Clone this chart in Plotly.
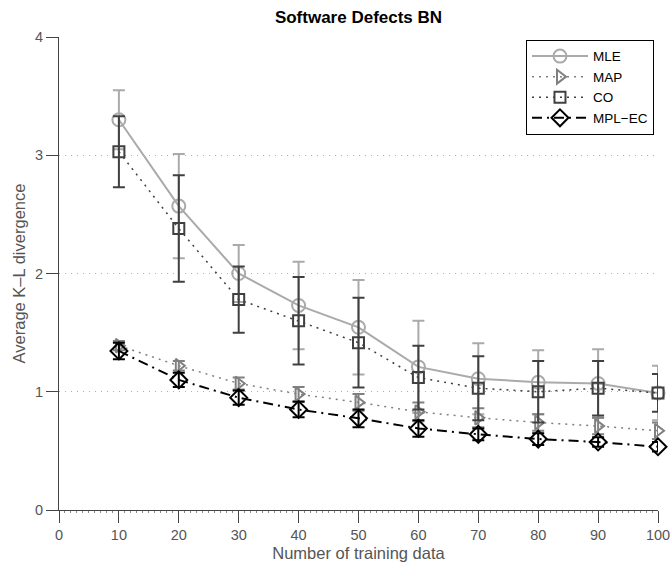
import plotly.graph_objects as go

x_train = [10, 20, 30, 40, 50, 60, 70, 80, 90, 100]

mle_mean = [3.30, 2.57, 2.00, 1.73, 1.545, 1.21, 1.11, 1.08, 1.07, 0.99]
mle_err = [0.25, 0.44, 0.24, 0.37, 0.40, 0.39, 0.30, 0.27, 0.29, 0.23]

map_mean = [1.39, 1.22, 1.07, 0.98, 0.91, 0.83, 0.78, 0.74, 0.71, 0.67]
map_err = [0.04, 0.04, 0.05, 0.06, 0.07, 0.08, 0.08, 0.07, 0.07, 0.07]

co_mean = [3.03, 2.38, 1.78, 1.60, 1.415, 1.12, 1.03, 1.00, 1.03, 0.99]
co_err = [0.30, 0.45, 0.28, 0.37, 0.38, 0.27, 0.27, 0.26, 0.23, 0.16]

mplec_mean = [1.345, 1.10, 0.95, 0.85, 0.775, 0.69, 0.64, 0.60, 0.575, 0.535]
mplec_err = [0.07, 0.06, 0.06, 0.065, 0.075, 0.07, 0.05, 0.05, 0.04, 0.04]

x_ticks = [0, 10, 20, 30, 40, 50, 60, 70, 80, 90, 100]
y_ticks = [0, 1, 2, 3, 4]

series = [
    ("MLE", mle_mean, mle_err, "#aaaaaa", "solid", 2, "circle-open", 13),
    ("MAP", map_mean, map_err, "#808080", "2px,5px", 1.5, "triangle-right-open", 12),
    ("CO", co_mean, co_err, "#404040", "2px,5px", 1.5, "square-open", 11),
    ("MPL\u2212EC", mplec_mean, mplec_err, "#000000", "10px,5px,2px,5px", 2, "diamond-open", 13),
]

fig = go.Figure()
for name, mean, err, color, dash, lw, symbol, msize in series:
    fig.add_trace(go.Scatter(
        x=x_train, y=mean, name=name, mode="lines+markers",
        line=dict(color=color, width=lw, dash=dash),
        marker=dict(symbol=symbol, size=msize, color=color,
                    line=dict(color=color, width=2)),
        error_y=dict(type="data", array=err, visible=True,
                     color=color, thickness=2, width=6),
        cliponaxis=False,
    ))

font_main = "Liberation Sans, Arial, sans-serif"

W, H = 670, 562
L, R, T, B = 59, 12, 37, 52

fig.update_layout(
    width=W, height=H,
    margin=dict(l=L, r=R, t=T, b=B, autoexpand=False),
    paper_bgcolor="white", plot_bgcolor="white",
    font=dict(family=font_main, size=14.5, color="#555555"),
    title=dict(text="<b>Software Defects BN</b>", x=(L + (W - L - R) / 2) / W,
               xanchor="center", y=1 - 17 / H, yref="container", yanchor="middle",
               font=dict(size=17, color="#000000")),
    showlegend=True,
    legend=dict(x=0.9933, y=0.994, xanchor="right", yanchor="top",
                bgcolor="white", bordercolor="#000000", borderwidth=1,
                font=dict(size=13.5, color="#000000"),
                tracegroupgap=0, itemwidth=56),
)

fig.update_xaxes(
    range=[0, 100], tickvals=x_ticks, ticks="outside", ticklen=12,
    tickcolor="#444444", showline=True, linecolor="#444444", linewidth=1,
    showgrid=False, zeroline=False, mirror=False, automargin=False,
    ticklabeloverflow="allow",
    minor=dict(dtick=1, ticks="outside", ticklen=2, tickcolor="#888888"),
    title=dict(text="Number of training data", standoff=7,
               font=dict(size=16.5, color="#555555")),
    tickfont=dict(size=14.5, color="#555555"),
)
fig.update_yaxes(
    range=[0, 4], tickvals=y_ticks, ticks="outside", ticklen=12,
    tickcolor="#444444", showline=True, linecolor="#444444", linewidth=1,
    showgrid=True, gridcolor="#b0b0b0", griddash="1px,5px", gridwidth=1,
    zeroline=False, mirror=False, automargin=False,
    ticklabeloverflow="allow",
    title=dict(text="Average K\u2013L divergence", standoff=5,
               font=dict(size=16.5, color="#555555")),
    tickfont=dict(size=14.5, color="#555555"),
)

# remove the default page margin so the figure fills the window exactly
fig.write_html(
    "out.html",
    config={"displayModeBar": False},
    post_script="document.body.style.margin='0';document.documentElement.style.overflow='hidden';",
)
